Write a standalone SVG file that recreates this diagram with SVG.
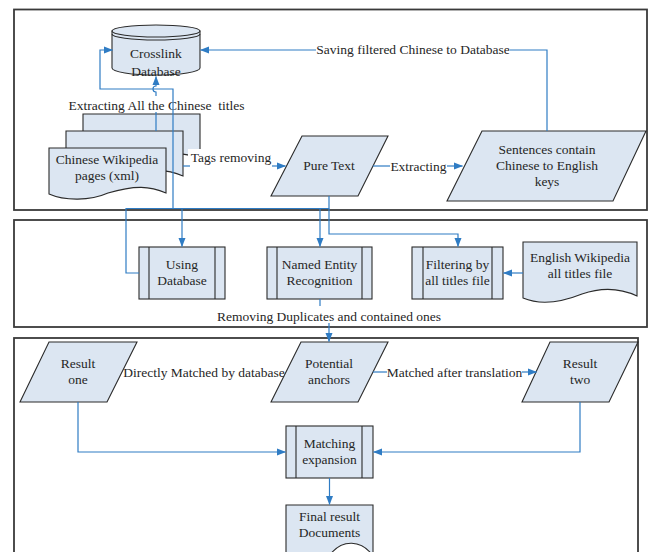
<svg xmlns="http://www.w3.org/2000/svg" width="649" height="552" viewBox="0 0 649 552">
<style>
.frame{fill:none;stroke:#3a3a3a;stroke-width:1.8}
.shape{fill:#dce6f2;stroke:#2b2b2b;stroke-width:1.1}
.ln{fill:none;stroke:#2b2b2b;stroke-width:1.1}
.c{fill:none;stroke:#2f7cc4;stroke-width:1.2}
.ca{fill:none;stroke:#2f7cc4;stroke-width:1.2;marker-end:url(#ah)}
text{font-family:"Liberation Serif","Times New Roman",serif;font-size:13.5px;fill:#262626;text-anchor:middle}
.bg{fill:#ffffff}
</style>
<defs>
<marker id="ah" markerUnits="userSpaceOnUse" markerWidth="9" markerHeight="8" refX="8.5" refY="4" orient="auto">
<path d="M0,0.5 L9,4 L0,7.5 Z" fill="#2f7cc4"/>
</marker>
</defs>
<rect width="649" height="552" fill="#ffffff"/>
<g id="frames">
<rect class="frame" x="14" y="9.5" width="633" height="200.5"/>
<rect class="frame" x="14" y="220" width="633" height="107"/>
<rect class="frame" x="14" y="338" width="624" height="230"/>
</g>
<g id="db">
<path class="shape" d="M112,31 V68 A44,7 0 0 0 200,68 V31 Z"/>
<ellipse class="shape" cx="156" cy="31" rx="44" ry="6"/>
<path class="ln" d="M112,34 A44,6 0 0 0 200,34"/>
<text x="156" y="57.5">Crosslink</text>
<text x="156" y="75.5">Database</text>
</g>
<g id="zhwiki">
<path class="shape" d="M83,114 H200 V159 C184,152 169,151 142,159 C124,167 99,167 83,160 Z"/>
<path class="shape" d="M66,131 H183 V176 C167,169 152,168 125,176 C107,184 82,184 66,177 Z"/>
<path class="shape" d="M49,148 H166 V193 C150,186 135,185 108,193 C90,201 65,201 49,194 Z"/>
<text x="107" y="163.5">Chinese Wikipedia</text>
<text x="107" y="179.5">pages (xml)</text>
</g>
<g id="puretext">
<polygon class="shape" points="302,136 388,136 358,196 271,196"/>
<text x="329" y="169.5">Pure Text</text>
</g>
<g id="sentences">
<polygon class="shape" points="482,131 646,131 613,201 447,201"/>
<text x="547" y="153.5">Sentences contain</text>
<text x="547" y="169.5">Chinese to English</text>
<text x="547" y="185.5">keys</text>
</g>
<g id="usingdb">
<rect class="shape" x="139" y="247" width="86" height="52"/>
<path class="ln" d="M149,247 V299 M215,247 V299"/>
<text x="182" y="268.5">Using</text>
<text x="182" y="284.5">Database</text>
</g>
<g id="ner">
<rect class="shape" x="267" y="247" width="105" height="52"/>
<path class="ln" d="M277,247 V299 M362,247 V299"/>
<text x="319.5" y="268.5">Named Entity</text>
<text x="319.5" y="284.5">Recognition</text>
</g>
<g id="filtering">
<rect class="shape" x="412" y="247" width="91" height="52"/>
<path class="ln" d="M423,247 V299 M492,247 V299"/>
<text x="457.5" y="268.5">Filtering by</text>
<text x="457.5" y="284.5">all titles file</text>
</g>
<g id="enwiki">
<path class="shape" d="M523,242 H637 V296 C620,288 602,287 582,294 C562,302 542,306 523,298 Z"/>
<text x="580" y="261.5">English Wikipedia</text>
<text x="580" y="277.5">all titles file</text>
</g>
<g id="resultone">
<polygon class="shape" points="49,342 137,342 107,402 20,402"/>
<text x="78" y="367.5">Result</text>
<text x="78" y="383.5">one</text>
</g>
<g id="potential">
<polygon class="shape" points="301,342 388,342 358,402 271,402"/>
<text x="329" y="367.5">Potential</text>
<text x="329" y="383.5">anchors</text>
</g>
<g id="resulttwo">
<polygon class="shape" points="550,342 638,342 609,402 522,402"/>
<text x="580" y="367.5">Result</text>
<text x="580" y="383.5">two</text>
</g>
<g id="matching">
<rect class="shape" x="286" y="426" width="87" height="52"/>
<path class="ln" d="M296,426 V478 M362,426 V478"/>
<text x="329.5" y="447.5">Matching</text>
<text x="329.5" y="463.5">expansion</text>
</g>
<g id="final">
<path class="shape" d="M286,505 H373 V556 C362,540 342,538 329,556 C315,572 298,572 286,562 Z"/>
<text x="329.5" y="520.5">Final result</text>
<text x="329.5" y="536.5">Documents</text>
</g>
<g id="connectors">
<path class="c" d="M547,131 V50 H510"/>
<path class="ca" d="M316,50 H200.5"/>
<text x="413" y="53.5">Saving filtered Chinese to Database</text>
<path class="ca" d="M156,131 V92 A3,3 0 0 1 156,86 V76.5"/>
<rect class="bg" x="67" y="96" width="180" height="16"/>
<text x="156.5" y="109.5" xml:space="preserve">Extracting All the Chinese  titles</text>
<path class="ca" d="M139,273 H126 V208.5 H173 V89 H100 V50 H112.5"/>
<path class="c" d="M173,208.5 H329 V196"/>
<path class="ca" d="M182,208.5 V246.5"/>
<path class="ca" d="M320,208.5 V246.5"/>
<path class="ca" d="M329,208.5 V234 H458 V246.5"/>
<path class="c" d="M183,166 H190"/>
<rect class="bg" x="188" y="149" width="84" height="15"/>
<text x="231" y="161.5">Tags removing</text>
<path class="ca" d="M272,166 H285.5"/>
<path class="c" d="M373,166 H390"/>
<text x="418.5" y="170.5">Extracting</text>
<path class="ca" d="M447,166 H462.5"/>
<path class="ca" d="M523,273 H503.5"/>
<path class="c" d="M320,299 V306"/>
<text x="329" y="320.5">Removing Duplicates and contained ones</text>
<path class="ca" d="M329,323 V341.5"/>
<text x="204" y="376.5">Directly Matched by database</text>
<path class="c" d="M373,372 H387"/>
<text x="454.5" y="376.5">Matched after translation</text>
<path class="ca" d="M522,372 H536.5"/>
<path class="ca" d="M78,402 V452 H285.5"/>
<path class="ca" d="M580,402 V452 H373.5"/>
<path class="ca" d="M329.5,478 V504.5"/>
</g>
</svg>
